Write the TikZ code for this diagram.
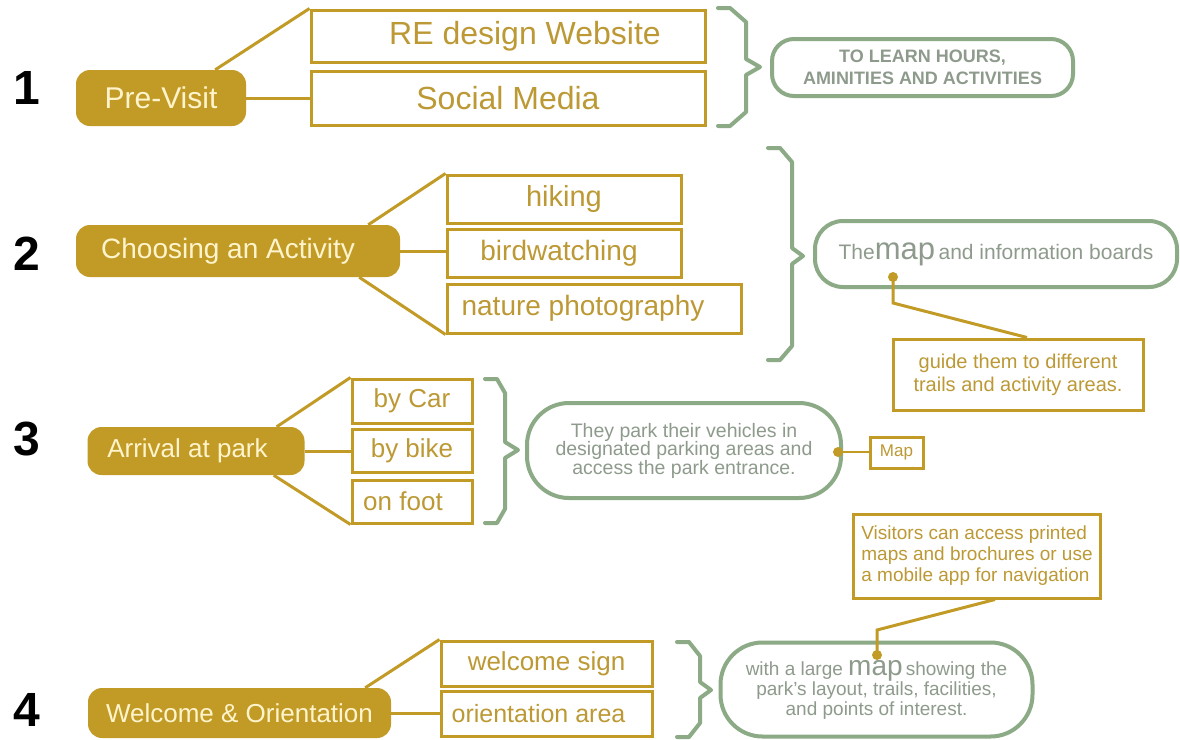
\documentclass[tikz,border=0pt]{standalone}
\usepackage{fontspec}
\setmainfont{Liberation Sans}
\usetikzlibrary{calc}
\definecolor{gold}{HTML}{C29B27}
\definecolor{goldtxt}{HTML}{BC9935}
\definecolor{sage}{HTML}{8BAA85}
\definecolor{graytxt}{HTML}{8E9B8C}
\definecolor{cream}{HTML}{FFF4CC}
\newcommand\fsz[1]{\fontsize{#1}{#1}\selectfont}
\newcommand\gbrace[6]{\draw[bracestyle] (#1,#4) -- (#1+12,#4) -- (#2,#4+14) -- (#2,#5-8) -- (#3,#5) -- (#2,#5+8) -- (#2,#6-14) -- (#1+12,#6) -- (#1,#6);}
\lineskiplimit=-100pt
\lineskip=0pt
\tikzset{
 filledbox/.style={fill=gold, draw=none, rounded corners=14pt, text=cream, inner sep=0pt, align=center},
 goldbox/.style={draw=gold, line width=3pt, inner sep=0pt, text=goldtxt, align=center},
 sagebox/.style={draw=sage, line width=4pt, inner sep=0pt, text=graytxt, align=center},
 conn/.style={draw=gold, line width=3pt},
 bracestyle/.style={draw=sage, line width=4pt, line join=round, line cap=round},
 numlabel/.style={font=\bfseries\fsz{48}, text=black, inner sep=0pt},
 dotmark/.style={fill=gold, circle, inner sep=0pt, minimum size=10pt}
}
\begin{document}
\begin{tikzpicture}[x=1pt,y=-1pt]
\fill[white] (0,0) rectangle (1180,739);
\useasboundingbox (0,0) rectangle (1180,739);

% ---------- 1 ----------
\node[numlabel] (n1) at (27,88) {1};
\node[filledbox, minimum width=170pt, minimum height=56pt, font=\fsz{30}] (pv) at (161,98) {Pre-Visit};
\node[goldbox, minimum width=394pt, minimum height=52pt, font=\fsz{32}] (re) at (508,36) {\hspace*{34pt}RE design Website};
\node[goldbox, minimum width=394pt, minimum height=54pt, font=\fsz{32}] (sm) at (508,98) {Social Media};
\draw[conn] ([xshift=-31pt]pv.north east) -- (re.north west);
\draw[conn] (pv.east) -- (sm.west);
\gbrace{718}{746}{760}{8}{67}{126}
\node[sagebox, rounded corners=22pt, minimum width=301pt, minimum height=57pt, font=\bfseries\fontsize{18}{22}\selectfont] (g1) at (922.5,67.5) {TO LEARN HOURS,\\AMINITIES AND ACTIVITIES};

% ---------- 2 ----------
\node[numlabel] (n2) at (27,254) {2};
\node[filledbox, minimum width=324pt, minimum height=52pt, font=\fsz{28}] (ca) at (238,251) {Choosing an Activity\hspace*{20pt}};
\node[goldbox, minimum width=234pt, minimum height=48pt, font=\fsz{29}] (hk) at (564,199) {hiking};
\node[goldbox, minimum width=234pt, minimum height=48pt, font=\fsz{28}] (bw) at (564,253) {birdwatching\hspace*{10pt}};
\node[goldbox, minimum width=294pt, minimum height=49pt, font=\fsz{28}] (np) at (594,308.5) {nature photography\hspace*{22pt}};
\draw[conn] ([xshift=-32pt]ca.north east) -- (hk.north west);
\draw[conn] (ca.east) -- (ca.east -| bw.west);
\draw[conn] ([xshift=-41pt]ca.south east) -- (np.south west);
\gbrace{768}{792}{803}{148}{256}{360}
\node[sagebox, rounded corners=28pt, minimum width=362pt, minimum height=66pt, font=\fsz{21}] (g2) at (996,254) {The{\fsz{31}map}\,and information boards};
\node[goldbox, minimum width=250pt, minimum height=71pt, font=\fontsize{20}{23}\selectfont] (gd) at (1018,374.5) {guide them to different\\trails and activity areas.};
\node[dotmark] (d2) at (893,277) {};
\coordinate (k2) at (893,303);
\draw[conn] (d2.center) -- (k2) -- ([xshift=9pt]gd.north);

% ---------- 3 ----------
\node[numlabel] (n3) at (27,439) {3};
\node[filledbox, minimum width=217pt, minimum height=48pt, font=\fsz{26}] (ap) at (196,451) {Arrival at park\hspace*{17pt}};
\node[goldbox, minimum width=120pt, minimum height=44pt, font=\fsz{26}] (bc) at (412,401) {by Car};
\node[goldbox, minimum width=120pt, minimum height=43pt, font=\fsz{26}] (bb) at (412,451) {by bike};
\node[goldbox, minimum width=120pt, minimum height=43pt, font=\fsz{26}] (of) at (412,501.5) {on foot\hspace*{18pt}};
\draw[conn] ([xshift=-28pt]ap.north east) -- (bc.north west);
\draw[conn] (ap.east) -- (ap.east -| bb.west);
\draw[conn] ([xshift=-31pt]ap.south east) -- (of.south west);
\gbrace{485}{505}{518}{379}{450}{523}
\node[sagebox, rounded corners=42pt, minimum width=314pt, minimum height=95pt, font=\fontsize{19.5}{18.5}\selectfont] (g3) at (684,450.5) {They park their vehicles in\\designated parking areas and\\access the park entrance.};
\node[goldbox, minimum width=53pt, minimum height=31pt, font=\fsz{17}] (mp) at (896.5,452.5) {Map};
\node[dotmark] (d3) at (838,452) {};
\draw[conn, line width=2.5pt] (d3.center) -- (d3.center -| mp.west);

% ---------- 4 ----------
\node[goldbox, minimum width=247pt, minimum height=84pt, align=left, font=\fontsize{19}{21}\selectfont] (vs) at (977,556) {Visitors can access printed\\maps and brochures or use\\a mobile app for navigation};
\node[numlabel] (n4) at (27,710) {4};
\node[filledbox, minimum width=303pt, minimum height=50pt, font=\fsz{26}] (wo) at (239.5,713) {Welcome \& Orientation};
\node[goldbox, minimum width=211pt, minimum height=45pt, font=\fsz{26}] (ws) at (546.5,663.5) {welcome sign};
\node[goldbox, minimum width=211pt, minimum height=45pt, font=\fsz{25}] (oa) at (546.5,713.5) {orientation area\hspace*{16pt}};
\draw[conn] ([xshift=-26pt]wo.north east) -- (ws.north west);
\draw[conn] (wo.east) -- (wo.east -| oa.west);
\gbrace{677}{700}{711}{642}{690}{737}
\node[sagebox, rounded corners=42pt, minimum width=312pt, minimum height=94pt, font=\fontsize{19}{20}\selectfont] (g4) at (876.5,689.5) {with a large {\fsz{28}map}\,showing the\\park's layout, trails, facilities,\\and points of interest.};
\node[dotmark] (d4) at (877,655) {};
\coordinate (k4) at (877,630);
\draw[conn] (d4.center) -- (k4) -- ([xshift=18pt]vs.south);
\end{tikzpicture}
\end{document}
